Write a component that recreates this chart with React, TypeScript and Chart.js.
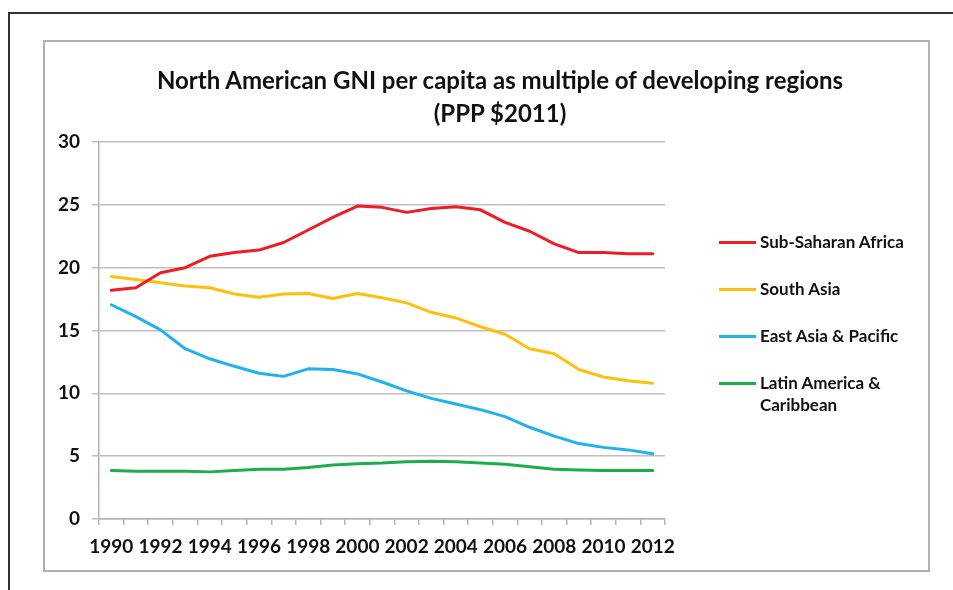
import React, { useEffect, useRef } from "react";
import { Chart, registerables } from "chart.js";

Chart.register(...registerables);

const years = [
  "1990", "1991", "1992", "1993", "1994", "1995", "1996", "1997", "1998", "1999", "2000",
  "2001", "2002", "2003", "2004", "2005", "2006", "2007", "2008", "2009", "2010", "2011", "2012",
];
const subSaharanAfrica = [18.2, 18.4, 19.6, 20.0, 20.9, 21.2, 21.4, 22.0, 23.0, 24.0, 24.9, 24.8, 24.4, 24.7, 24.85, 24.6, 23.6, 22.9, 21.9, 21.2, 21.2, 21.1, 21.1];
const southAsia = [19.3, 19.05, 18.8, 18.55, 18.4, 17.9, 17.65, 17.9, 17.95, 17.55, 17.95, 17.6, 17.2, 16.45, 16.0, 15.3, 14.7, 13.55, 13.15, 11.9, 11.3, 11.0, 10.8];
const eastAsiaPacific = [17.05, 16.1, 15.05, 13.55, 12.75, 12.15, 11.6, 11.35, 11.95, 11.9, 11.55, 10.9, 10.2, 9.6, 9.15, 8.7, 8.15, 7.3, 6.6, 6.0, 5.7, 5.5, 5.2];
const latinAmericaCaribbean = [3.85, 3.8, 3.8, 3.8, 3.75, 3.85, 3.95, 3.95, 4.1, 4.3, 4.4, 4.45, 4.55, 4.6, 4.55, 4.45, 4.35, 4.15, 3.95, 3.9, 3.85, 3.85, 3.85];

const seriesNames = ["Sub-Saharan Africa", "South Asia", "East Asia & Pacific", "Latin America & Caribbean"];
const seriesColors = ["#ee1c25", "#fdc010", "#1fb2ec", "#1cae4c"];
const titleLines = ["North American GNI per capita as multiple of developing regions", "(PPP $2011)"];

const FONT = "Lato, 'Open Sans', sans-serif";

export default function App() {
  const canvasRef = useRef<HTMLCanvasElement | null>(null);

  useEffect(() => {
    const canvas = canvasRef.current;
    if (!canvas) return;
    const values = [subSaharanAfrica, southAsia, eastAsiaPacific, latinAmericaCaribbean];
    const chart = new Chart(canvas, {
      type: "line",
      data: {
        labels: years,
        datasets: values.map((v, i) => ({
          label: seriesNames[i],
          data: v,
          borderColor: seriesColors[i],
          backgroundColor: seriesColors[i],
          borderWidth: 3,
          pointRadius: 0,
          tension: 0,
          borderJoinStyle: "round" as const,
          borderCapStyle: "round" as const,
        })),
      },
      options: {
        responsive: false,
        animation: false,
        layout: { padding: { top: 101, right: 264, bottom: 0, left: 0 } },
        plugins: {
          legend: { display: false },
          title: { display: false },
          tooltip: { enabled: false },
        },
        scales: {
          x: {
            type: "category",
            offset: true,
            grid: {
              offset: true,
              drawOnChartArea: false,
              drawTicks: true,
              tickLength: 6,
              color: "#b3b3b3",
              lineWidth: 1.5,
            },
            border: { display: true, color: "#b3b3b3", width: 1.5 },
            ticks: {
              autoSkip: false,
              maxRotation: 0,
              padding: 10,
              color: "#111",
              font: { family: FONT, size: 19, weight: "bold" },
              callback: (_v: any, i: number) => (i % 2 === 0 ? years[i] : ""),
            },
            afterFit: (scale: any) => {
              scale.height = 52;
            },
          },
          y: {
            min: 0,
            max: 30,
            ticks: {
              stepSize: 5,
              padding: 12,
              color: "#111",
              font: { family: FONT, size: 19, weight: "bold" },
            },
            grid: {
              color: "#bfbfbf",
              lineWidth: 1.5,
              drawTicks: true,
              tickLength: 7,
            },
            border: { display: true, color: "#b3b3b3", width: 1.5 },
            afterFit: (scale: any) => {
              scale.width = 55;
            },
          },
        },
      },
    });
    return () => chart.destroy();
  }, []);

  return (
    <div style={{ position: "absolute", left: 0, top: 0, width: 953, height: 590, background: "#fff", overflow: "hidden" }}>
      {/* outer frame */}
      <div style={{ position: "absolute", left: 8, top: 12, width: 945, height: 2, background: "#333" }} />
      <div style={{ position: "absolute", left: 8, top: 12, width: 2, height: 578, background: "#333" }} />
      {/* chart canvas */}
      <canvas ref={canvasRef} width={885} height={530} style={{ position: "absolute", left: 44, top: 41, width: 885, height: 530 }} />
      {/* inner chart border */}
      <div style={{ position: "absolute", left: 43, top: 40, width: 887, height: 532, boxSizing: "border-box", border: "2px solid #b0b0b0", pointerEvents: "none" }} />
      {/* title */}
      <div style={{ position: "absolute", left: 0, top: 63, width: 1000, textAlign: "center", fontFamily: FONT, fontWeight: 700, fontSize: 24, lineHeight: "33px", color: "#111" }}>
        {titleLines.map((t) => (
          <div key={t}>{t}</div>
        ))}
      </div>
      {/* legend */}
      {seriesNames.map((name, i) => {
        const cy = 242 + i * 47;
        return (
          <div key={name} style={{ position: "absolute", left: 719, top: cy - 11, width: 220, fontFamily: FONT, fontWeight: 700, fontSize: 17, lineHeight: "22px", color: "#111" }}>
            <div style={{ position: "absolute", left: 0, top: 10, width: 37, height: 3, background: seriesColors[i] }} />
            <div style={{ marginLeft: 41, width: 170 }}>
              {name === "Latin America & Caribbean" ? (
                <>
                  Latin America &amp;
                  <br />
                  Caribbean
                </>
              ) : (
                name
              )}
            </div>
          </div>
        );
      })}
    </div>
  );
}
